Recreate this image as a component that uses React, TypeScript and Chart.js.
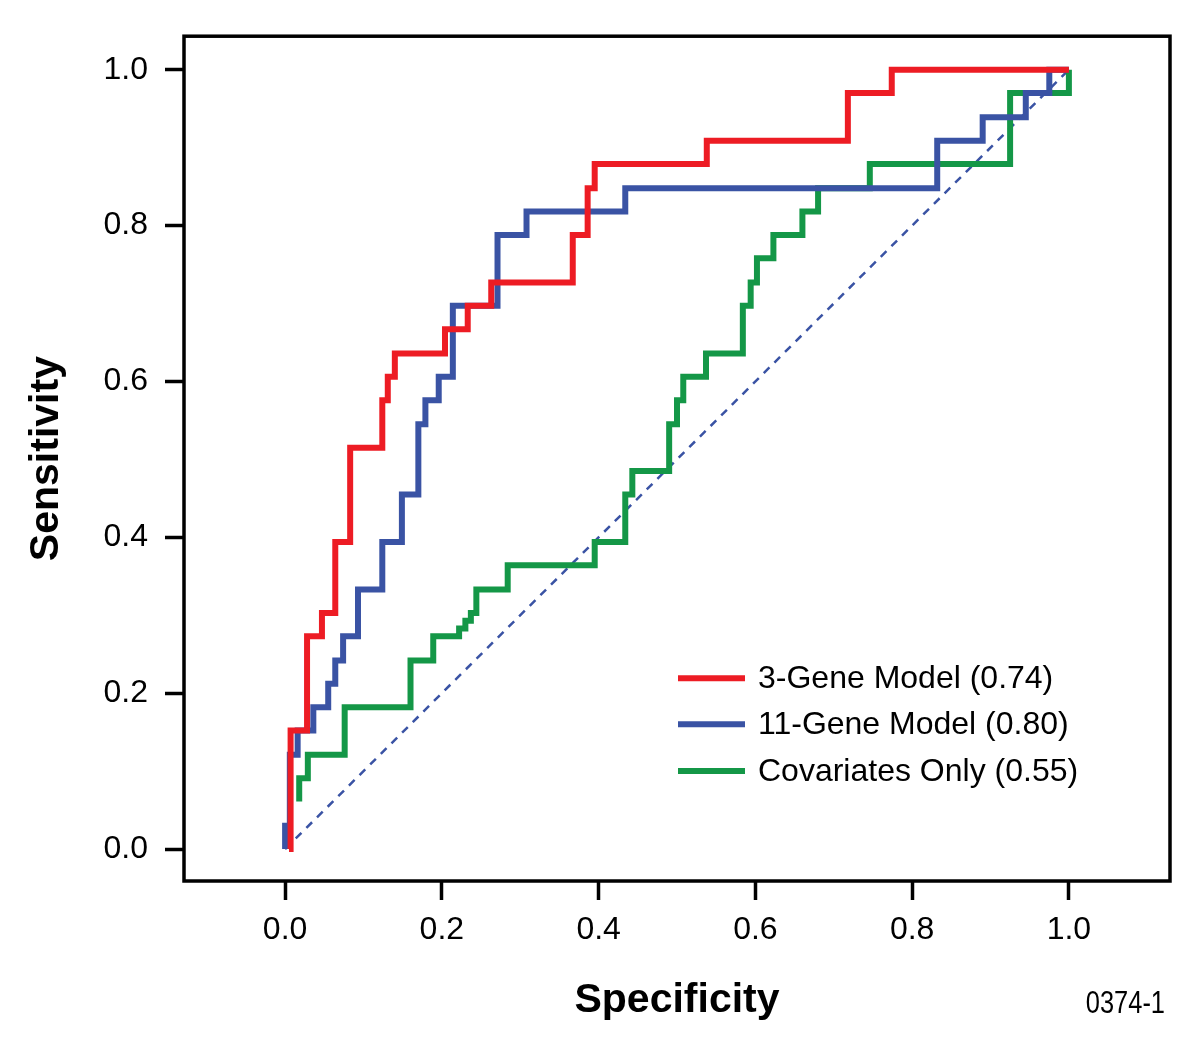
import React, { useEffect, useRef } from 'react';
import { Chart, registerables } from 'chart.js';

Chart.register(...registerables);

const FONT = "'Liberation Sans', Arial, Helvetica, sans-serif";

const seriesLabels = ['3-Gene Model (0.74)', '11-Gene Model (0.80)', 'Covariates Only (0.55)'];
const seriesColors = ['#ED1C24', '#3A53A4', '#149747'];

// step points: x = 1 - specificity where sensitivity rises, y = sensitivity after the rise
const gene3X = [0.005, 0.007, 0.028, 0.047, 0.064, 0.083, 0.124, 0.131, 0.140, 0.204, 0.233, 0.263, 0.367, 0.386, 0.395, 0.538, 0.718, 0.774, 1.0];
const gene3Y = [0.0, 0.152, 0.273, 0.303, 0.394, 0.515, 0.576, 0.606, 0.636, 0.667, 0.697, 0.727, 0.788, 0.848, 0.879, 0.909, 0.970, 1.0, 1.0];

const gene11X = [0.0, 0.0, 0.006, 0.016, 0.036, 0.055, 0.064, 0.074, 0.093, 0.124, 0.149, 0.170, 0.179, 0.196, 0.214, 0.271, 0.308, 0.434, 0.832, 0.890, 0.945, 0.975, 1.0];
const gene11Y = [0.0, 0.030, 0.121, 0.152, 0.182, 0.212, 0.242, 0.273, 0.333, 0.394, 0.455, 0.545, 0.576, 0.606, 0.697, 0.788, 0.818, 0.848, 0.909, 0.939, 0.970, 1.0, 1.0];

const covarX = [0.018, 0.018, 0.029, 0.076, 0.160, 0.189, 0.222, 0.230, 0.237, 0.244, 0.284, 0.395, 0.434, 0.443, 0.490, 0.500, 0.508, 0.537, 0.584, 0.594, 0.602, 0.623, 0.660, 0.680, 0.746, 0.925, 1.0];
const covarY = [0.061, 0.091, 0.121, 0.182, 0.242, 0.273, 0.283, 0.293, 0.303, 0.333, 0.364, 0.394, 0.455, 0.485, 0.545, 0.576, 0.606, 0.636, 0.697, 0.727, 0.758, 0.788, 0.818, 0.848, 0.879, 0.970, 1.0];

const chanceX = [0, 1];
const chanceY = [0, 1];

const axisTicks = [0, 0.2, 0.4, 0.6, 0.8, 1.0];
const xRange = [-0.129, 1.129];
const yRange = [-0.041, 1.043];
const figureCode = '0374-1';

const toPoints = (xs: number[], ys: number[]) => xs.map((x, i) => ({ x, y: ys[i] }));

const decorPlugin = {
  id: 'decor',
  afterDatasetsDraw(chart: any) {
    const { ctx, chartArea: a } = chart;
    ctx.save();
    // frame
    ctx.strokeStyle = '#000';
    ctx.lineWidth = 3.5;
    ctx.strokeRect(a.left, a.top, a.right - a.left, a.bottom - a.top);
    // legend
    const lx0 = a.left + 494;
    const lx1 = a.left + 561;
    const tx = a.left + 574;
    const yPx = (v: number) => chart.scales.y.getPixelForValue(v);
    const rows = [yPx(0.219), yPx(0.16), yPx(0.1)];
    ctx.font = `32px ${FONT}`;
    ctx.textBaseline = 'middle';
    ctx.textAlign = 'left';
    for (let i = 0; i < 3; i++) {
      ctx.strokeStyle = seriesColors[i];
      ctx.lineWidth = 6;
      ctx.lineCap = 'butt';
      ctx.beginPath();
      ctx.moveTo(lx0, rows[i]);
      ctx.lineTo(lx1, rows[i]);
      ctx.stroke();
      ctx.fillStyle = '#000';
      ctx.fillText(seriesLabels[i], tx, rows[i] + 1);
    }
    // figure code
    ctx.translate(a.right - 5, a.bottom + 132);
    ctx.scale(0.82, 1);
    ctx.font = `31px ${FONT}`;
    ctx.textAlign = 'right';
    ctx.textBaseline = 'alphabetic';
    ctx.fillText(figureCode, 0, 0);
    ctx.restore();
  },
};

export default function App() {
  const ref = useRef<HTMLCanvasElement>(null);

  useEffect(() => {
    if (!ref.current) return;
    const lineDs = (i: number, xs: number[], ys: number[]) => ({
      label: seriesLabels[i],
      data: toPoints(xs, ys),
      borderColor: seriesColors[i],
      backgroundColor: seriesColors[i],
      borderWidth: 6,
      stepped: 'before' as const,
      pointRadius: 0,
      fill: false,
      borderJoinStyle: 'miter' as const,
      borderCapStyle: 'butt' as const,
    });
    const tickCommon = {
      color: '#000',
      font: { family: FONT, size: 32 },
      autoSkip: false,
      maxRotation: 0,
      callback: (v: any) => Number(v).toFixed(1),
    };
    const gridCommon = {
      display: true,
      drawOnChartArea: false,
      drawTicks: true,
      tickLength: 19,
      tickWidth: 3.5,
      tickColor: '#000',
      color: '#000',
    };
    const chart = new Chart(ref.current, {
      type: 'line',
      data: {
        datasets: [
          lineDs(0, gene3X, gene3Y),
          lineDs(1, gene11X, gene11Y),
          lineDs(2, covarX, covarY),
          {
            label: 'Chance',
            data: toPoints(chanceX, chanceY),
            borderColor: '#3A53A4',
            borderWidth: 2.5,
            borderDash: [8, 7],
            pointRadius: 0,
            fill: false,
          },
        ],
      },
      options: {
        responsive: false,
        animation: false,
        devicePixelRatio: 1,
        layout: { padding: { top: 31, right: 30, left: 0, bottom: 0 } },
        plugins: {
          legend: { display: false },
          tooltip: { enabled: false },
        },
        scales: {
          x: {
            type: 'linear',
            min: xRange[0],
            max: xRange[1],
            afterBuildTicks: (scale: any) => {
              scale.ticks = axisTicks.map((v) => ({ value: v }));
            },
            afterFit: (scale: any) => {
              scale.height = 174;
            },
            ticks: { ...tickCommon, padding: 11 },
            grid: gridCommon,
            border: { display: false },
            title: {
              display: true,
              text: 'Specificity',
              color: '#000',
              font: { family: FONT, size: 41, weight: 'bold' },
              padding: { top: 0, bottom: 30 },
            },
          },
          y: {
            type: 'linear',
            min: yRange[0],
            max: yRange[1],
            afterBuildTicks: (scale: any) => {
              scale.ticks = axisTicks.map((v) => ({ value: v }));
            },
            afterFit: (scale: any) => {
              scale.width = 184;
            },
            ticks: { ...tickCommon, padding: 17 },
            grid: gridCommon,
            border: { display: false },
            title: {
              display: true,
              text: 'Sensitivity',
              color: '#000',
              font: { family: FONT, size: 41, weight: 'bold' },
              padding: { top: 22, bottom: 0 },
            },
          },
        },
      },
      plugins: [decorPlugin],
    } as any);
    return () => chart.destroy();
  }, []);

  return (
    <div style={{ position: 'absolute', left: 0, top: 0, width: 1200, height: 1055, background: '#fff' }}>
      <canvas ref={ref} width={1200} height={1055} style={{ display: 'block', width: 1200, height: 1055 }} />
    </div>
  );
}
